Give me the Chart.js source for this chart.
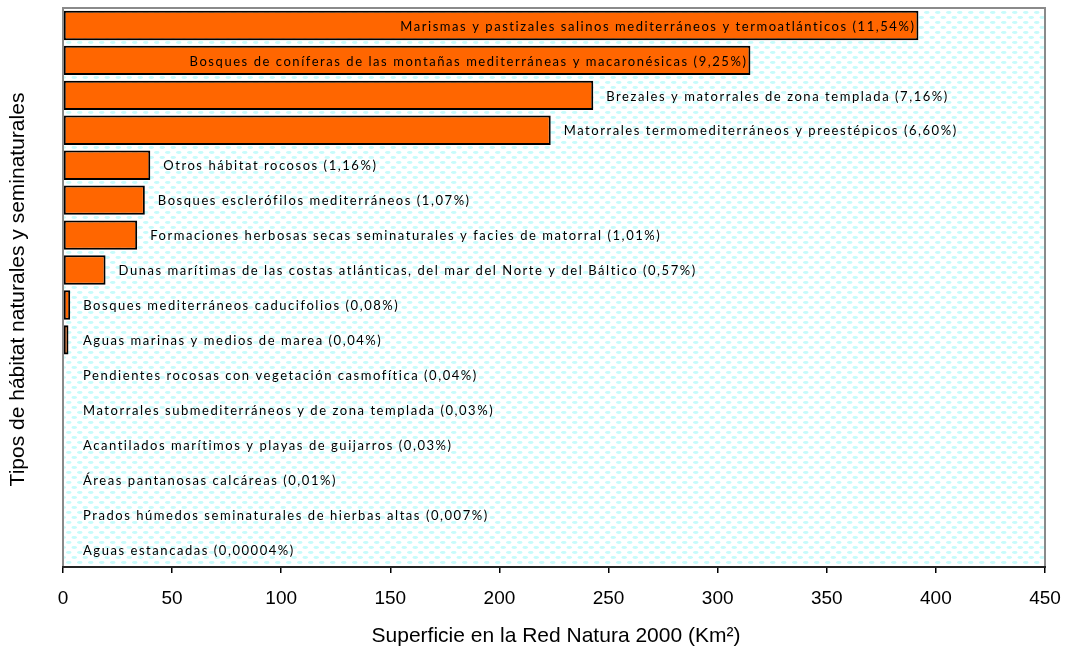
<!DOCTYPE html>
<html>
<head>
<meta charset="utf-8">
<script src="https://cdn.jsdelivr.net/npm/chart.js@4.4.1/dist/chart.umd.min.js"></script>
<style>
  html, body { margin: 0; padding: 0; background: #fff; }
  #wrap { width: 1069px; height: 650px; position: relative; }
</style>
</head>
<body>
<div id="wrap"><canvas id="chart"></canvas></div>
<script>
// Tipos de hábitat (etiqueta con su porcentaje)
const habitats = [
  "Marismas y pastizales salinos mediterráneos y termoatlánticos (11,54%)",
  "Bosques de coníferas de las montañas mediterráneas y macaronésicas (9,25%)",
  "Brezales y matorrales de zona templada (7,16%)",
  "Matorrales termomediterráneos y preestépicos (6,60%)",
  "Otros hábitat rocosos (1,16%)",
  "Bosques esclerófilos mediterráneos (1,07%)",
  "Formaciones herbosas secas seminaturales y facies de matorral (1,01%)",
  "Dunas marítimas de las costas atlánticas, del mar del Norte y del Báltico (0,57%)",
  "Bosques mediterráneos caducifolios (0,08%)",
  "Aguas marinas y medios de marea (0,04%)",
  "Pendientes rocosas con vegetación casmofítica (0,04%)",
  "Matorrales submediterráneos y de zona templada (0,03%)",
  "Acantilados marítimos y playas de guijarros (0,03%)",
  "Áreas pantanosas calcáreas (0,01%)",
  "Prados húmedos seminaturales de hierbas altas (0,007%)",
  "Aguas estancadas (0,00004%)"
]

// Superficie en Km2
const superficie = [392, 315, 243, 223.5, 40, 37.5, 34, 19.5, 3.3, 2.5, 0, 0, 0, 0, 0, 0]

const xTicks = [0, 50, 100, 150, 200, 250, 300, 350, 400, 450]

const xTitle = "Superficie en la Red Natura 2000 (Km²)"
const yTitle = "Tipos de hábitat naturales y seminaturales"

// ── Fondo punteado ─────────────────────────────────────────────────────────

function dotPattern(ctx) {
  const tile = document.createElement("canvas")
  tile.width = 11
  tile.height = 10
  const t = tile.getContext("2d")
  t.fillStyle = "#ffffff"
  t.fillRect(0, 0, 11, 10)
  t.fillStyle = "#c6fbfb"
  const dots = [[2.75, 2.5], [8.25, 7.5], [-2.75, 7.5], [13.75, 2.5]]
  dots.forEach(([x, y]) => {
    t.beginPath()
    t.ellipse(x, y, 2.8, 1.4, 0, 0, Math.PI * 2)
    t.fill()
  })
  return ctx.createPattern(tile, "repeat")
}

const backgroundPlugin = {
  id: "plotBackground",
  beforeDraw(chart) {
    const { ctx, chartArea: a } = chart
    ctx.save()
    ctx.fillStyle = dotPattern(ctx)
    ctx.fillRect(a.left, a.top, a.right - a.left, a.bottom - a.top)
    ctx.restore()
  },
  afterDatasetsDraw(chart) {
    const { ctx, chartArea: a } = chart
    ctx.save()
    ctx.strokeStyle = "#8a8a8a"
    ctx.lineWidth = 2
    ctx.strokeRect(a.left, a.top, a.right - a.left, a.bottom - a.top)
    ctx.strokeStyle = "#000"
    ctx.lineWidth = 1.5
    ctx.beginPath()
    ctx.moveTo(a.left - 1, a.bottom)
    ctx.lineTo(a.right + 1, a.bottom)
    ctx.stroke()

    // etiquetas de las barras
    ctx.font = "13px Lato, 'Open Sans', sans-serif"
    ctx.letterSpacing = "1.55px"
    ctx.fillStyle = "#000"
    ctx.textBaseline = "middle"
    const meta = chart.getDatasetMeta(0)
    meta.data.forEach((bar, i) => {
      const text = habitats[i]
      const w = ctx.measureText(text).width
      const start = Math.max(bar.x, a.left + 7) + 13
      if (start + w < a.right - 6) {
        ctx.textAlign = "left"
        ctx.fillText(text, start, bar.y + 1)
      } else {
        ctx.textAlign = "right"
        ctx.fillText(text, bar.x - 3, bar.y + 1)
      }
    })

    // títulos de los ejes
    ctx.letterSpacing = "0px"
    ctx.font = "21px 'Liberation Sans', Arial, sans-serif"
    ctx.textAlign = "center"
    ctx.textBaseline = "middle"
    ctx.fillText(xTitle, (a.left + a.right) / 2 + 2, 636)
    ctx.translate(18, (a.top + a.bottom) / 2 + 2)
    ctx.rotate(-Math.PI / 2)
    ctx.fillText(yTitle, 0, 0)
    ctx.restore()
  }
}

new Chart(document.getElementById("chart"), {
  type: "bar",
  data: {
    labels: habitats,
    datasets: [{
      data: superficie,
      backgroundColor: "#ff6600",
      borderColor: "#000000",
      borderWidth: 2,
      borderSkipped: false,
      barPercentage: 0.84,
      categoryPercentage: 1
    }]
  },
  options: {
    indexAxis: "y",
    responsive: true,
    maintainAspectRatio: false,
    animation: false,
    layout: { padding: { top: 8, right: 24, left: 0, bottom: 0 } },
    plugins: {
      legend: { display: false },
      tooltip: { enabled: false }
    },
    scales: {
      x: {
        min: 0,
        max: 450,
        afterBuildTicks: scale => { scale.ticks = xTicks.map(v => ({ value: v })) },
        afterFit: scale => {
          scale.height = 83
          scale.paddingLeft = 0
          scale.paddingRight = 0
        },
        ticks: {
          color: "#000",
          font: { family: "'Liberation Sans', Arial, sans-serif", size: 19 },
          padding: 14,
          maxRotation: 0
        },
        grid: {
          drawOnChartArea: false,
          drawTicks: true,
          tickLength: 6,
          color: "#000",
          lineWidth: 1.5
        },
        border: { display: false }
      },
      y: {
        afterFit: scale => { scale.width = 63 },
        ticks: { display: false },
        grid: { display: false },
        border: { display: false }
      }
    }
  },
  plugins: [backgroundPlugin]
})
</script>
</body>
</html>
